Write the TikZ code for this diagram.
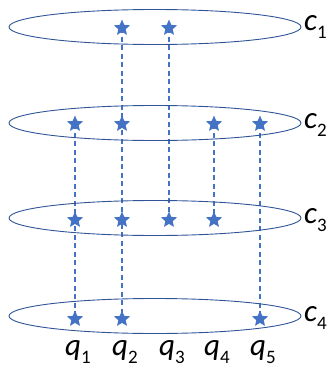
\documentclass[tikz,border=0pt]{standalone}
\usepackage{fontspec}
\setmainfont{Carlito}
\usetikzlibrary{shapes.geometric,backgrounds}
\definecolor{ringc}{HTML}{2F5597}
\definecolor{starc}{HTML}{4472C4}
\newcommand{\lbl}[2]{\textit{#1}\raisebox{-0.25em}{\fontsize{19}{20}\selectfont\upshape #2}}
\tikzset{
  ring/.style={draw=ringc, line width=0.9pt, ellipse, minimum width=292pt, minimum height=35pt, inner sep=0pt},
  qstar/.style={star, star points=5, star point ratio=2.2, fill=starc, draw=none, minimum size=17pt, inner sep=0pt},
  link/.style={draw=starc, dashed, dash pattern=on 5pt off 3.5pt, line width=1.1pt},
  lab/.style={font=\fontsize{31}{33}\selectfont, inner sep=0pt}
}
\begin{document}
\begin{tikzpicture}[x=1pt,y=-1pt]
\useasboundingbox (0,0) rectangle (330,367);
% rings
\node[ring] (r1) at (155,27) {};
\node[ring] (r2) at (155,123) {};
\node[ring] (r3) at (155,218) {};
\node[ring] (r4) at (155,316) {};
% ring labels
\node[lab, anchor=west] (c1) at (304,27) {\lbl{c}{1}};
\node[lab, anchor=west] (c2) at (304,125) {\lbl{c}{2}};
\node[lab, anchor=west] (c3) at (304,220) {\lbl{c}{3}};
\node[lab, anchor=west] (c4) at (304,318) {\lbl{c}{4}};
% stars
\node[qstar] (s1-2) at (122,28) {};
\node[qstar] (s1-3) at (169,28) {};
\node[qstar] (s2-1) at (75,124) {};
\node[qstar] (s2-2) at (122,124) {};
\node[qstar] (s2-4) at (214,124) {};
\node[qstar] (s2-5) at (260,124) {};
\node[qstar] (s3-1) at (75,220) {};
\node[qstar] (s3-2) at (122,220) {};
\node[qstar] (s3-3) at (169,220) {};
\node[qstar] (s3-4) at (214,220) {};
\node[qstar] (s4-1) at (75,319) {};
\node[qstar] (s4-2) at (122,319) {};
\node[qstar] (s4-5) at (260,319) {};
% query labels
\node[lab] (q1) at (78,352) {\lbl{q}{1}};
\node[lab] (q2) at (125,352) {\lbl{q}{2}};
\node[lab] (q3) at (172,352) {\lbl{q}{3}};
\node[lab] (q4) at (217,352) {\lbl{q}{4}};
\node[lab] (q5) at (263,352) {\lbl{q}{5}};
% links
\begin{scope}[on background layer]
\draw[link] (s2-1.center) -- (s4-1.center);
\draw[link] (s1-2.center) -- (s4-2.center);
\draw[link] (s1-3.center) -- (s3-3.center);
\draw[link] (s2-4.center) -- (s3-4.center);
\draw[link] (s2-5.center) -- (s4-5.center);
\end{scope}
\end{tikzpicture}
\end{document}
